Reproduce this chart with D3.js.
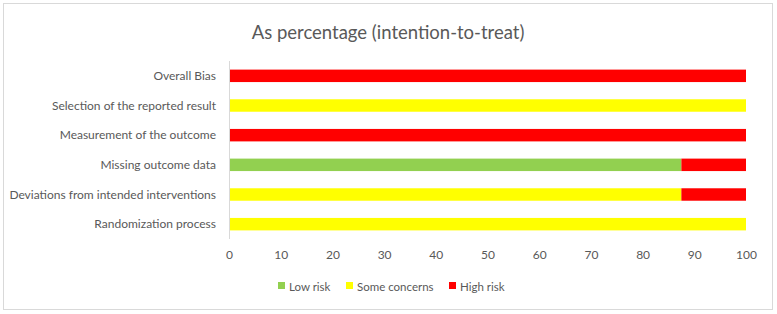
<!DOCTYPE html>
<html>
<head>
<meta charset="utf-8">
<script src="https://cdn.jsdelivr.net/npm/d3@7"></script>
<style>
  body { margin: 0; background: #fff; }
  svg text { font-family: Lato, "Open Sans", sans-serif; fill: #595959; }
</style>
</head>
<body>
<svg width="777" height="314"></svg>
<script>
// domains, bottom to top in the picture
const domains = [
  'Randomization process',
  'Deviations from intended interventions',
  'Missing outcome data',
  'Measurement of the outcome',
  'Selection of the reported result',
  'Overall Bias'
];
const lowRisk = [0, 0, 87.5, 0, 0, 0];
const someConcerns = [100, 87.5, 0, 0, 100, 0];
const highRisk = [0, 12.5, 12.5, 100, 0, 100];
const seriesNames = ['Low risk', 'Some concerns', 'High risk'];
const ticks = [0, 10, 20, 30, 40, 50, 60, 70, 80, 90, 100];

(function (d3) {
    'use strict';
    const svg = d3.select('svg');
    const colors = d3.scaleOrdinal()
        .domain(seriesNames)
        .range(['#92D050', '#FFFF00', '#FF0000']);

    // chart frame
    svg.append('rect')
        .attr('x', 3.5).attr('y', 3.5)
        .attr('width', 769).attr('height', 306)
        .attr('fill', '#fff')
        .attr('stroke', '#d9d9d9');

    svg.append('text')
        .attr('x', 388).attr('y', 39)
        .attr('text-anchor', 'middle')
        .attr('font-size', 18.5)
        .text('As percentage (intention-to-treat)');

    const x = d3.scaleLinear().domain([0, 100]).range([229, 746]);
    const y = d3.scaleBand()
        .domain(domains.slice().reverse())
        .range([61, 239])
        .paddingInner(0.58)
        .paddingOuter(0.29);

    const rows = domains.map((d, i) => ({
        name: d,
        'Low risk': lowRisk[i],
        'Some concerns': someConcerns[i],
        'High risk': highRisk[i]
    }));
    const stacked = d3.stack().keys(seriesNames)(rows);

    svg.append('g').selectAll('g')
        .data(stacked)
        .enter().append('g')
          .attr('fill', d => colors(d.key))
        .selectAll('rect')
        .data(d => d)
        .enter().append('rect')
          .attr('x', d => x(d[0]))
          .attr('y', d => y(d.data.name))
          .attr('width', d => x(d[1]) - x(d[0]))
          .attr('height', y.bandwidth());

    // vertical category axis line
    svg.append('line')
        .attr('x1', 229.5).attr('x2', 229.5)
        .attr('y1', 61).attr('y2', 239)
        .attr('stroke', '#d9d9d9');

    // category labels
    svg.append('g').selectAll('text')
        .data(domains)
        .enter().append('text')
          .attr('x', 216)
          .attr('y', d => y(d) + y.bandwidth() / 2)
          .attr('dy', '0.35em')
          .attr('text-anchor', 'end')
          .attr('font-size', 12)
          .text(d => d);

    // x axis tick labels
    const xAxis = d3.axisBottom(x).tickValues(ticks).tickSize(0).tickPadding(0);
    const xAxisG = svg.append('g')
        .attr('transform', 'translate(0, 250)')
        .call(xAxis);
    xAxisG.select('.domain').remove();
    xAxisG.selectAll('text')
        .attr('font-size', 12)
        .attr('fill', '#595959');

    // legend
    const legendX = [278, 346, 449];
    const legend = svg.append('g').selectAll('g')
        .data(seriesNames)
        .enter().append('g')
          .attr('transform', (d, i) => `translate(${legendX[i]}, 287)`);
    legend.append('rect')
        .attr('x', 0).attr('y', -5)
        .attr('width', 7).attr('height', 7)
        .attr('fill', d => colors(d));
    legend.append('text')
        .attr('x', 11)
        .attr('dy', '0.35em')
        .attr('font-size', 11.5)
        .text(d => d);
}(d3));
</script>
</body>
</html>
